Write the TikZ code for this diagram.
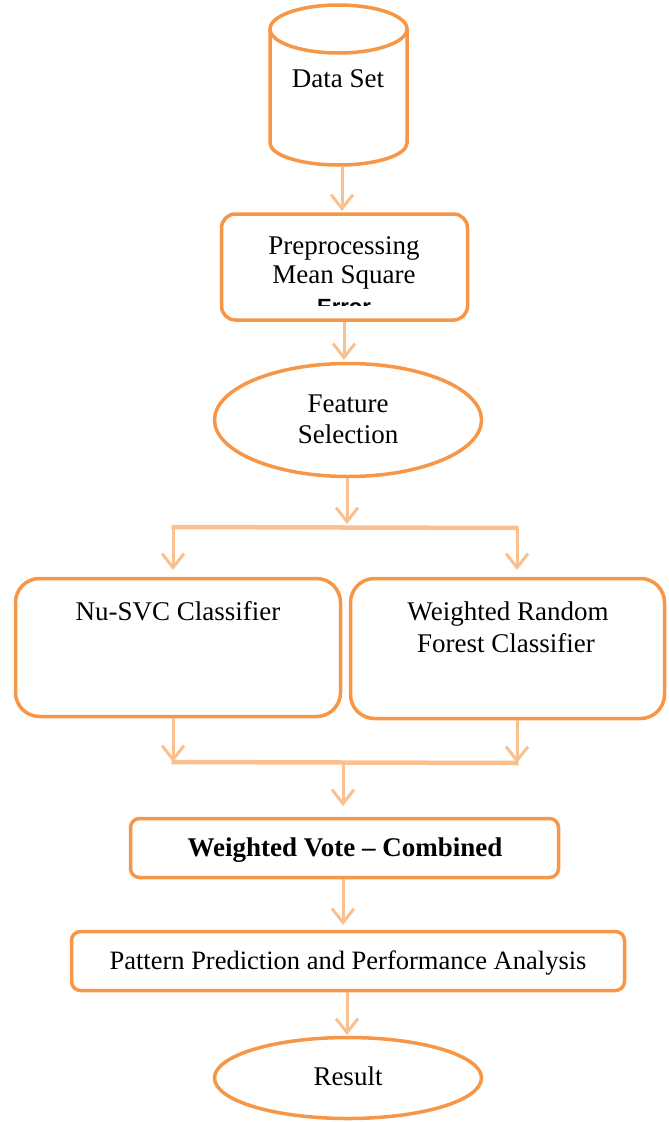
\documentclass[tikz,border=0pt]{standalone}
\usepackage{fontspec}
\setmainfont{Liberation Serif}
\newfontfamily\labelsans{Liberation Sans}
\usetikzlibrary{shapes.geometric,arrows.meta}

\definecolor{edgeorange}{HTML}{F79646}
\definecolor{flowpeach}{HTML}{FAC090}

\begin{document}
\begin{tikzpicture}[x=1pt,y=-1pt,
  txt/.style={font=\fontsize{27}{31}\selectfont, text=black, anchor=base, inner sep=0pt},
  box/.style={draw=edgeorange, line width=3.5pt, rounded corners=14pt, fill=white, inner sep=0pt},
  oval/.style={draw=edgeorange, line width=3.5pt, ellipse, fill=white, inner sep=0pt},
  flow/.style={draw=flowpeach, line width=3pt,
    -{Straight Barb[length=14pt,width=22pt,line width=3pt]}},
  bar/.style={draw=flowpeach, line width=4.5pt}
]
\useasboundingbox (0,0) rectangle (669,1122);

% data store cylinder
\node[minimum width=137pt, minimum height=162pt, inner sep=0pt] (ds) at (338.5,86) {};
\fill[white] (270,29) -- (270,143) arc[start angle=180, end angle=360, x radius=68.5pt, y radius=22pt] -- (407,29) -- cycle;
\draw[edgeorange, line width=3.5pt] (270,29) -- (270,143)
  arc[start angle=180, end angle=360, x radius=68.5pt, y radius=22pt] -- (407,29);
\draw[edgeorange, line width=3.5pt, fill=white] (338.5,29) ellipse[x radius=68.5pt, y radius=24pt];
\node[txt] (dst) at (338,87) {Data Set};

% preprocessing
\node[box, minimum width=246pt, minimum height=106pt] (pre) at (344.5,267) {};
\node[txt] (pre1) at (344,254) {Preprocessing};
\node[txt] (pre2) at (344,283) {Mean Square};
\begin{scope}
  \clip (230,290) rectangle (460,305);
  \node[txt, font=\labelsans\bfseries\fontsize{22}{26}\selectfont] (pre3) at (344,314) {Error};
\end{scope}

% feature selection
\node[oval, minimum width=267pt, minimum height=113pt] (fs) at (348,420) {};
\node[txt] (fs1) at (348,412) {Feature};
\node[txt] (fs2) at (348,443) {Selection};

% classifiers
\node[box, rounded corners=24pt, minimum width=325pt, minimum height=138pt] (nu) at (178,647.5) {};
\node[txt] (nut) at (178,620) {Nu-SVC Classifier};
\node[box, rounded corners=24pt, minimum width=314pt, minimum height=140pt] (wrf) at (507.5,648.5) {};
\node[txt] (wrf1) at (508,620) {Weighted Random};
\node[txt] (wrf2) at (506,652) {Forest Classifier};

% combination
\node[box, rounded corners=9pt, minimum width=428pt, minimum height=59pt] (wv) at (344.5,848) {};
\node[txt, font=\bfseries\fontsize{27}{31}\selectfont] (wvt) at (345,856) {Weighted Vote -- Combined};

\node[box, rounded corners=9pt, minimum width=553pt, minimum height=59pt] (ppa) at (348,961) {};
\node[txt, font=\fontsize{26.5}{31}\selectfont] (ppat) at (348,969) {Pattern Prediction and Performance Analysis};

\node[oval, minimum width=267pt, minimum height=81pt] (res) at (348,1078) {};
\node[txt] (rest) at (348,1085) {Result};

% split and merge bars
\coordinate (sL) at (173,527);
\coordinate (sR) at (517,528);
\coordinate (mL) at (173,762);
\coordinate (mR) at (517,763);

% connectors
\draw[flow] (ds.south -| 342,0) -- (342,211);
\draw[flow] (pre.south -| 344,0) -- (344,360);
\draw[flow] (fs.south -| 347,0) -- (347,524);
\draw[bar] ([xshift=-1.5pt]sL) -- ([xshift=1.5pt]sR);
\draw[flow] (sL) -- (sL |- 0,570);
\draw[flow] (sR) -- (sR |- 0,570);
\draw[flow] (nu.south -| sL) -- (mL);
\draw[flow] (wrf.south -| sR) -- (mR);
\draw[bar] ([xshift=-1.5pt]mL) -- ([xshift=1.5pt]mR);
\draw[flow] (343,764) -- (343,806);
\draw[flow] (wv.south -| 343,0) -- (343,925);
\draw[flow] (ppa.south -| 347,0) -- (347,1035);
\end{tikzpicture}
\end{document}
